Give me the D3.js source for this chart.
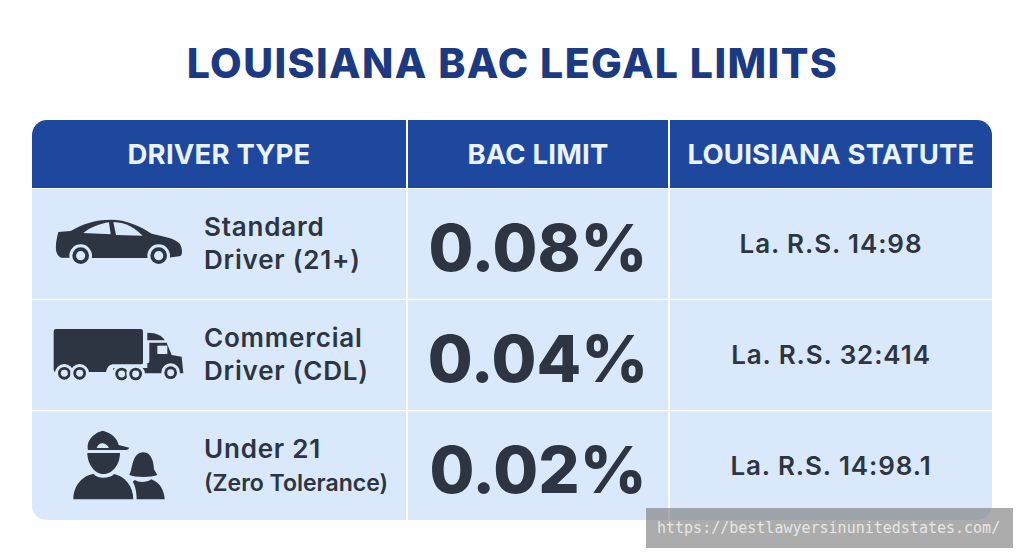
<!DOCTYPE html>
<html lang="en">
<head>
<meta charset="UTF-8">
<title>Louisiana BAC Legal Limits</title>
<script src="https://d3js.org/d3.v7.min.js"></script>
<style>
    html, body { margin: 0; padding: 0; background: #fff; }
    svg { display: block; }
    text { font-family: Inter, "Open Sans", sans-serif; }
</style>
</head>
<body>
<script>
const titleText = "LOUISIANA BAC LEGAL LIMITS";
const headers = ["DRIVER TYPE", "BAC LIMIT", "LOUISIANA STATUTE"];
const driverLine1 = ["Standard", "Commercial", "Under 21"];
const driverLine2 = ["Driver (21+)", "Driver (CDL)", "(Zero Tolerance)"];
const bacLimits = [0.08, 0.04, 0.02];
const statutes = ["La. R.S. 14:98", "La. R.S. 32:414", "La. R.S. 14:98.1"];
const watermark = "https://bestlawyersinunitedstates.com/";

const width = 1024, height = 559;
const dark = "#2c3541", blue = "#1e489d", cell = "#d9e8fb";

const svg = d3.select("body").append("svg").attr("width", width).attr("height", height);

svg.append("text").attr("x", 512.5).attr("y", 78).attr("text-anchor", "middle")
    .attr("font-size", 41).attr("font-weight", 800).attr("letter-spacing", 1.4).attr("fill", "#1b3a82")
    .text(titleText);

// table layout
const colEdges = [32, 408, 670, 992];
const rowY = d3.scaleBand().domain(d3.range(3)).range([189, 521]).paddingInner(0.012);
const colX = i => colEdges[i];
const colW = i => colEdges[i + 1] - colEdges[i] - (i < 2 ? 2 : 0);

svg.append("clipPath").attr("id", "tbl").append("rect")
    .attr("x", 32).attr("y", 120).attr("width", 960).attr("height", 400).attr("rx", 15);

const table = svg.append("g").attr("clip-path", "url(#tbl)");

table.selectAll("rect.head").data(headers).join("rect").attr("class", "head")
    .attr("x", (d, i) => colX(i)).attr("y", 120).attr("width", (d, i) => colW(i)).attr("height", 68)
    .attr("fill", blue);

svg.selectAll("text.head").data(headers).join("text").attr("class", "head")
    .attr("x", (d, i) => colX(i) + colW(i) / 2).attr("y", 164).attr("text-anchor", "middle")
    .attr("font-size", 27.5).attr("font-weight", 700).attr("letter-spacing", 0.2).attr("fill", "#eaf3fd")
    .text(d => d);

d3.range(3).forEach(r => {
    d3.range(3).forEach(c => {
        table.append("rect").attr("x", colX(c)).attr("y", rowY(r))
            .attr("width", colW(c)).attr("height", rowY.bandwidth()).attr("fill", cell);
    });
});

const mid = r => rowY(r) + rowY.bandwidth() / 2;

svg.selectAll("text.l1").data(driverLine1).join("text").attr("class", "l1")
    .attr("x", 204).attr("y", (d, i) => mid(i) - 8)
    .attr("font-size", 26).attr("font-weight", 600).attr("letter-spacing", 0.8).attr("fill", dark).text(d => d);

svg.selectAll("text.l2").data(driverLine2).join("text").attr("class", "l2")
    .attr("x", 204).attr("y", (d, i) => mid(i) + 25)
    .attr("font-size", (d, i) => i === 2 ? 23 : 26).attr("font-weight", 600)
    .attr("letter-spacing", (d, i) => i === 2 ? 0 : 0.8).attr("fill", dark).text(d => d);

const fmt = d3.format(".2f");
svg.selectAll("text.bac").data(bacLimits).join("text").attr("class", "bac")
    .attr("x", 538).attr("y", (d, i) => mid(i) + 27).attr("text-anchor", "middle")
    .attr("font-size", 65).attr("font-weight", 800).attr("fill", dark)
    .text(d => fmt(d) + "%");

svg.selectAll("text.stat").data(statutes).join("text").attr("class", "stat")
    .attr("x", 831).attr("y", (d, i) => mid(i) + 9).attr("text-anchor", "middle")
    .attr("font-size", 26).attr("font-weight", 600).attr("letter-spacing", 0.9).attr("fill", dark).text(d => d);

// icons, drawn in 3x crop space
function icon(x, y) {
    return svg.append("g").attr("transform", `translate(${x},${y}) scale(${1 / 3})`).attr("fill", dark);
}
function wheel(g, cx, cy, r) {
    g.append("circle").attr("cx", cx).attr("cy", cy).attr("r", r + 9).attr("fill", cell);
    g.append("circle").attr("cx", cx).attr("cy", cy).attr("r", r);
    g.append("circle").attr("cx", cx).attr("cy", cy).attr("r", r * 0.55).attr("fill", cell);
}

const car = icon(20, 190);
car.append("path").attr("d", "M115,126 L152,123 C185,103 225,89 272,89 C320,89 360,108 395,131 C430,139 465,145 478,160 C488,175 488,190 482,198 L440,204 L215,204 L125,203 C105,198 103,170 115,126Z");
car.append("path").attr("fill", cell).attr("d", "M190,129 C210,112 240,101 267,97 L272,133Z");
car.append("path").attr("fill", cell).attr("d", "M280,96 C320,97 345,115 368,137 L288,135Z");
wheel(car, 182, 197, 25);
wheel(car, 416, 197, 25);

const truck = icon(20, 300);
truck.append("path").attr("d", "M108,87 H362 Q369,87 369,94 V188 Q369,193 363,193 H278 Q262,195 258,216 H108 Q101,216 101,209 V94 Q101,87 108,87Z");
truck.append("path").attr("d", "M382,98 C410,98 428,108 434,121 H382Z");
truck.append("path").attr("d", "M388,128 H440 L455,165 L485,170 L490,220 H280 V204 H382 V190 Q388,190 388,184Z");
truck.append("rect").attr("x", 412).attr("y", 137).attr("width", 30).attr("height", 25).attr("fill", cell);
[[133, 220], [179, 220], [305, 222], [347, 222], [452, 218]].forEach(w => wheel(truck, w[0], w[1], 19));

const people = icon(20, 410);
people.append("path").attr("d", "M204,120 C198,88 225,68 248,62 C275,68 292,85 296,105 L328,113 Q325,120 318,120Z");
people.append("path").attr("fill", cell).attr("d", "M230,114 C235,95 258,95 267,114Z");
people.append("path").attr("d", "M202,129 H300 C300,160 280,192 250,192 C222,192 202,160 202,129Z");
people.append("path").attr("d", "M370,127 C395,127 402,160 402,178 L412,195 C395,203 345,203 328,195 C338,180 335,127 370,127Z");
people.append("path").attr("d", "M345,210 C355,218 380,218 394,208 C420,218 432,240 434,268 H350 C350,245 345,225 338,215Z");
people.append("path").attr("d", "M160,268 C160,225 190,195 222,192 C230,207 270,207 282,192 C315,198 340,230 340,268Z");

// watermark strip
svg.append("rect").attr("x", 646).attr("y", 508).attr("width", 367).attr("height", 40)
    .attr("fill", "#7f7f7f").attr("fill-opacity", 0.65);
svg.append("text").attr("x", 657).attr("y", 533)
    .style("font-family", "'DejaVu Sans Mono', monospace").attr("font-size", 15)
    .attr("fill", "#e6e6e6").text(watermark);
</script>
</body>
</html>
